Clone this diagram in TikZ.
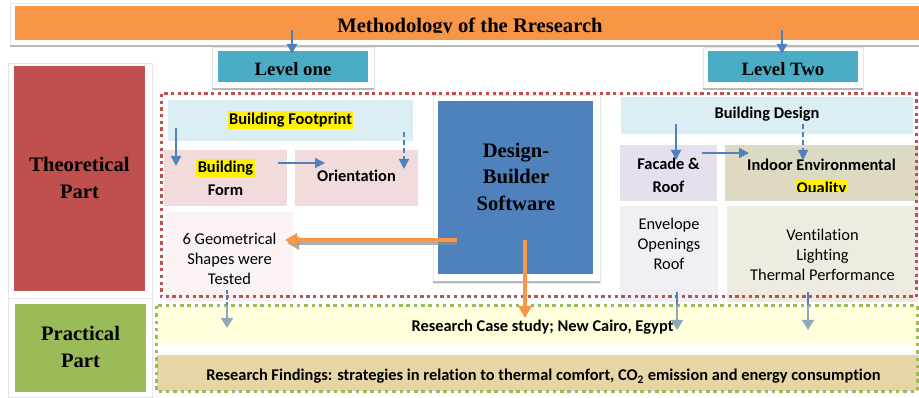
\documentclass[tikz,border=0pt]{standalone}
\usepackage{fontspec}
\setmainfont{Liberation Serif}
\newfontfamily\calfont[Ligatures={NoCommon}]{Carlito}
\usetikzlibrary{arrows.meta,calc}
\definecolor{orng}{HTML}{F79646}
\definecolor{lvblue}{HTML}{4BACC6}
\definecolor{theored}{HTML}{C0504D}
\definecolor{pracgreen}{HTML}{9BBB59}
\definecolor{dbblue}{HTML}{4F81BD}
\definecolor{ltblue}{HTML}{DAEEF3}
\definecolor{ltpink}{HTML}{F2DCDB}
\definecolor{vltpink}{HTML}{FBF3F3}
\definecolor{ltpurple}{HTML}{E5E0EC}
\definecolor{vltpurple}{HTML}{F1EFF6}
\definecolor{ieqc}{HTML}{DDD9C3}
\definecolor{ventc}{HTML}{EEECE1}
\definecolor{caseyel}{HTML}{FFFFDB}
\definecolor{findtan}{HTML}{E6D6A6}
\definecolor{grayhead}{HTML}{8FAAB5}
\newcommand\hlt[1]{{\setlength{\fboxsep}{1.5pt}\colorbox{yellow}{#1}}}
\begin{document}
\begin{tikzpicture}[x=1pt,y=-1pt,
  box/.style={inner sep=0pt,outer sep=0pt,draw=none},
  serifb/.style={font=\fontsize{20.6}{27}\selectfont\bfseries, align=center, inner sep=0pt},
  dbfont/.style={font=\fontsize{20.6}{26.5}\selectfont\bfseries, align=center, inner sep=0pt},
  lvfont/.style={font=\fontsize{18.8}{22}\selectfont\bfseries, inner sep=0pt},
  sansb/.style={font=\calfont\fontsize{16.4}{23}\selectfont\bfseries, align=center, inner sep=0pt},
  sansr/.style={font=\calfont\fontsize{16.4}{20}\selectfont, align=center, inner sep=0pt},
  framebox/.style={fill=white, draw=gray!20, line width=0.6pt},
  shadowline/.style={draw=gray!55, line width=2pt},
  barrow/.style={draw=dbblue, line width=1.5pt, -{Triangle[length=10pt,width=10pt]}},
  bdash/.style={draw=dbblue, line width=1.5pt, dash pattern=on 5pt off 3pt, -{Triangle[length=10pt,width=10pt]}},
  garrow/.style={draw=grayhead, line width=1.5pt, -{Triangle[length=10pt,width=12pt]}},
  oarrow/.style={draw=orng, line width=4pt, -{Triangle[length=12pt,width=13pt]}},
  oshadow/.style={draw=black!45, opacity=0.7, line width=4pt, -{Triangle[length=12pt,width=13pt]}},
  reddot/.style={draw=theored, line width=3pt, dash pattern=on 3.3pt off 3.4pt},
  greendot/.style={draw=pracgreen, line width=3pt, dash pattern=on 3.5pt off 3.8pt}
]
\useasboundingbox (0,0) rectangle (919,398);
\fill[white] (0,0) rectangle (919,398);

% frames
\path[framebox] (10,3) rectangle (921,46);
\draw[shadowline] (10,46) -- (919,46);
\path[framebox] (212,47) rectangle (374,89);
\draw[shadowline] (212,89) -- (374,89);
\path[framebox] (703,47) rectangle (863,89);
\draw[shadowline] (703,89) -- (863,89);
\path[framebox] (8,63) rectangle (152,298);
\path[framebox] (8,298) rectangle (152,397);
\path[framebox] (433,95) rectangle (600,283);
\draw[shadowline] (433,282) -- (600,282);

% title
\node[box, fill=orng, minimum width=904, minimum height=34] (title) at (467,23) {};
\begin{scope}
\clip (15,6) rectangle (919,33);
\node[serifb, anchor=base] (titletext) at (470,32.5) {Methodology of the Rresearch};
\end{scope}

% level boxes
\node[box, fill=lvblue, minimum width=150, minimum height=31] (lvone) at (293,66.5) {};
\node[lvfont, anchor=base] (lvonet) at (293,75.5) {Level one};
\node[box, fill=lvblue, minimum width=150, minimum height=31] (lvtwo) at (783,66.5) {};
\node[lvfont, anchor=base] (lvtwot) at (783,75.5) {Level Two};

% parts
\node[box, fill=theored, minimum width=131, minimum height=225] (theo) at (79.5,178.5) {};
\node[serifb] (theot) at (79.5,178) {Theoretical\\Part};
\node[box, fill=pracgreen, minimum width=131, minimum height=88] (prac) at (80.5,348) {};
\node[serifb] (pract) at (80.5,347) {Practical\\Part};

% level one contents
\node[box, fill=ltblue, minimum width=245, minimum height=41] (foot) at (290.5,120.5) {};
\node[sansb, anchor=base] (foott) at (290.5,124.5) {\hlt{Building Footprint}};
\node[box, fill=ltpink, minimum width=123, minimum height=56] (form) at (225.5,178) {};
\node[sansb] (formt) at (225.5,177.5) {\hlt{Building}\\Form};
\node[box, fill=ltpink, minimum width=123, minimum height=56] (orient) at (356.5,178) {};
\node[sansb, anchor=base] (orientt) at (356.5,182) {Orientation};
\node[box, fill=vltpink, minimum width=127, minimum height=90] (geo) at (229.5,257) {};
\node[sansr] (geot) at (229.5,258.5) {6 Geometrical\\Shapes were\\Tested};

% design builder
\node[box, fill=dbblue, minimum width=155, minimum height=173] (dbs) at (515.5,187.5) {};
\node[dbfont] (dbst) at (516,176.5) {Design-\\Builder\\Software};

% level two contents
\node[box, fill=ltblue, minimum width=292, minimum height=37] (design) at (767,115.5) {};
\node[sansb, anchor=base] (designt) at (767,119) {Building Design};
\node[box, fill=ltpurple, minimum width=97, minimum height=56] (facade) at (668.5,173) {};
\node[sansb] (facadet) at (668.5,175) {Facade \&\\Roof};
\node[box, fill=ieqc, minimum width=193, minimum height=56] (ieq) at (821.5,173) {};
\begin{scope}
\clip (725,145) rectangle (918,192);
\node[sansb] (ieqt) at (821.5,178) {Indoor Environmental\\\hlt{Quality}};
\end{scope}
\node[box, fill=vltpurple, minimum width=98, minimum height=96] (env) at (669,254) {};
\node[sansr] (envt) at (669,244) {Envelope\\Openings\\Roof};
\node[box, fill=ventc, minimum width=191, minimum height=96] (vent) at (822.5,254) {};
\node[sansr] (ventt) at (822.5,254.5) {Ventilation\\Lighting\\Thermal Performance};

% practical contents
\node[box, fill=caseyel, minimum width=762, minimum height=36] (caseb) at (538,325) {};
\node[sansb, anchor=base] (caset) at (542.5,331) {Research Case study; New Cairo, Egypt};
\node[box, fill=findtan, minimum width=762, minimum height=36] (find) at (538,373) {};
\node[sansb, anchor=base] (findt) at (543.5,380.5) {Research Findings: strategies in relation to thermal comfort, CO\textsubscript{2} emission and energy consumption};

% dotted frames
\draw[reddot] (161,94) rectangle (916,297);
\draw[greendot] (156,306) rectangle (917,391);

% arrows from title
\coordinate (t1) at (292,30);
\coordinate (t2) at (782,30);
\draw[barrow] (t1) -- ($(t1 |- lvone.north)+(0,3)$);
\draw[barrow] (t2) -- ($(t2 |- lvtwo.north)+(0,3)$);

% level one arrows
\coordinate (a1s) at (176,128); \coordinate (a1e) at (176,166);
\draw[barrow] (a1s) -- (a1e);
\coordinate (a2s) at (404,132); \coordinate (a2e) at (404,169);
\draw[bdash] (a2s) -- (a2e);
\coordinate (a3s) at (278,163); \coordinate (a3e) at (325,163);
\draw[barrow] (a3s) -- (a3e);

% level two arrows
\coordinate (b1s) at (676,124); \coordinate (b1e) at (676,160);
\draw[barrow] (b1s) -- (b1e);
\coordinate (b2s) at (803,124); \coordinate (b2e) at (803,160);
\draw[bdash] (b2s) -- (b2e);
\coordinate (b3s) at (702,153); \coordinate (b3e) at (749,153);
\draw[barrow] (b3s) -- (b3e);

% orange arrows
\coordinate (os) at (457,240);
\coordinate (oe) at (285,240);
\draw[oshadow] ($(os)+(0,3)$) -- ($(oe)+(2,3)$);
\draw[oarrow] (os) -- (oe);
\coordinate (vs) at (525,240);
\coordinate (ve) at (525,318);
\draw[oarrow] (vs) -- (ve);

% down arrows to case study
\coordinate (g1) at (227,290); \coordinate (g1m) at (227,305); \coordinate (g1e) at (227,328);
\draw[dbblue, line width=1.5pt, dash pattern=on 4pt off 2pt] (g1) -- (g1m);
\draw[garrow] (g1m) -- (g1e);
\coordinate (g2) at (677,292); \coordinate (g2m) at (677,305); \coordinate (g2e) at (677,330);
\draw[dbblue, line width=1.5pt] (g2) -- (g2m);
\draw[garrow] (g2m) -- (g2e);
\coordinate (g3) at (808,292); \coordinate (g3m) at (808,305); \coordinate (g3e) at (808,330);
\draw[dbblue, line width=1.5pt] (g3) -- (g3m);
\draw[garrow] (g3m) -- (g3e);
\end{tikzpicture}
\end{document}
